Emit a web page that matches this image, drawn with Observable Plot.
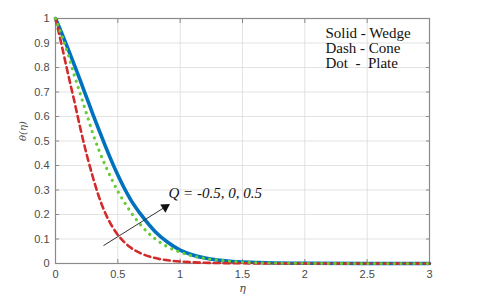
<!DOCTYPE html>
<html>
<head>
<meta charset="utf-8">
<script src="https://cdn.jsdelivr.net/npm/d3@7"></script>
<script src="https://cdn.jsdelivr.net/npm/@observablehq/plot@0.6"></script>
<style>
  html, body { margin: 0; padding: 0; background: #fff; }
  #chart { width: 480px; height: 304px; }
</style>
</head>
<body>
<div id="chart"></div>
<script>
// η grid and similarity temperature profiles θ(η)
const eta   = [0, 0.05, 0.1, 0.15, 0.2, 0.25, 0.3, 0.35, 0.4, 0.45, 0.5, 0.55, 0.6, 0.7, 0.8, 0.9, 1.0, 1.1, 1.2, 1.3, 1.4, 1.5, 1.75, 2, 2.5, 3];
const wedge = [1, 0.94, 0.877, 0.812, 0.745, 0.677, 0.609, 0.543, 0.479, 0.418, 0.361, 0.309, 0.263, 0.19, 0.13, 0.087, 0.055, 0.035, 0.022, 0.014, 0.009, 0.006, 0.002, 0.001, 0, 0];
const cone  = [1, 0.89, 0.775, 0.665, 0.55, 0.445, 0.352, 0.27, 0.205, 0.155, 0.117, 0.088, 0.066, 0.038, 0.022, 0.013, 0.008, 0.005, 0.003, 0.002, 0.0015, 0.001, 0, 0, 0, 0];
const plate = [1, 0.93, 0.855, 0.77, 0.69, 0.61, 0.53, 0.46, 0.40, 0.345, 0.295, 0.252, 0.213, 0.148, 0.1, 0.068, 0.046, 0.031, 0.021, 0.014, 0.009, 0.006, 0.002, 0.001, 0, 0];

const xTicks = [0, 0.5, 1, 1.5, 2, 2.5, 3];
const yTicks = [0, 0.1, 0.2, 0.3, 0.4, 0.5, 0.6, 0.7, 0.8, 0.9, 1];

const legendLines = ["Solid - Wedge", "Dash - Cone", "Dot\u00a0\u00a0-\u00a0\u00a0Plate"];
const annotation = "Q = -0.5, 0, 0.5";
const arrowTail = {x: 0.385, y: 0.073};
const arrowHead = {x: 0.90, y: 0.237};

const rows = (vals) => eta.map((e, i) => ({eta: e, theta: vals[i]}));

const axisColor = "#8a8a8a";
const fmt = d => `${d}`;
const tickFont = {fontFamily: "'Liberation Sans', Arial, sans-serif", fontSize: 11, fill: "#4a4a4a"};

const chart = Plot.plot({
  width: 480,
  height: 304,
  marginLeft: 55,
  marginRight: 51,
  marginTop: 18,
  marginBottom: 41,
  x: {domain: [0, 3]},
  y: {domain: [0, 1]},
  style: {background: "#fff", color: "#4a4a4a"},
  marks: [
    Plot.gridX(xTicks, {stroke: "#dcdcdc", strokeOpacity: 1, strokeWidth: 0.8}),
    Plot.gridY(yTicks, {stroke: "#dcdcdc", strokeOpacity: 1, strokeWidth: 0.8}),
    Plot.frame({stroke: axisColor, strokeWidth: 1.2}),
    Plot.axisX({ticks: xTicks, tickSize: -4, tickPadding: 11, tickFormat: fmt, stroke: axisColor, label: null, ...tickFont}),
    Plot.axisX({ticks: xTicks, anchor: "top", tickSize: -4, tickFormat: () => "", stroke: axisColor, label: null}),
    Plot.axisY({ticks: yTicks, tickSize: -4, tickPadding: 10, tickFormat: fmt, stroke: axisColor, label: null, ...tickFont}),
    Plot.axisY({ticks: yTicks, anchor: "right", tickSize: -4, tickFormat: () => "", stroke: axisColor, label: null}),
    Plot.line(rows(wedge), {x: "eta", y: "theta", stroke: "#0072BD", strokeWidth: 3.6, curve: "monotone-x"}),
    Plot.line(rows(cone), {x: "eta", y: "theta", stroke: "#d22b2b", strokeWidth: 2.6, strokeDasharray: "6,4", curve: "monotone-x"}),
    Plot.line(rows(plate), {x: "eta", y: "theta", stroke: "#66cc33", strokeWidth: 3.2, strokeDasharray: "0.1,6.5", strokeLinecap: "round", curve: "monotone-x"}),
    Plot.link([{x1: arrowTail.x, y1: arrowTail.y, x2: arrowHead.x, y2: arrowHead.y}], {x1: "x1", y1: "y1", x2: "x2", y2: "y2", stroke: "#333", strokeWidth: 1}),
    Plot.dot([arrowHead], {x: "x", y: "y", symbol: "triangle", r: 3.6, fill: "#111", stroke: "none", rotate: 58, dx: -2.5, dy: 1.6}),
    Plot.text([annotation], {x: 0.906, y: 0.285, text: d => d, textAnchor: "start", fontFamily: "'Liberation Serif', 'Times New Roman', serif", fontStyle: "italic", fontSize: 15, fill: "#111"}),
    Plot.text([legendLines.join("\n")], {x: 2.165, y: 0.94, text: d => d, textAnchor: "start", lineAnchor: "top", lineHeight: 1.0, fontFamily: "'Liberation Serif', 'Times New Roman', serif", fontSize: 15, fill: "#111", dy: -6}),
    Plot.text(["η"], {frameAnchor: "bottom", dy: 28, text: d => d, fontFamily: "'DejaVu Serif', serif", fontStyle: "italic", fontSize: 11, fill: "#4a4a4a"}),
    Plot.text(["θ(η)"], {frameAnchor: "left", dx: -33, rotate: -90, text: d => d, fontFamily: "'DejaVu Serif', serif", fontStyle: "italic", fontSize: 10, fill: "#4a4a4a"})
  ]
});

document.getElementById("chart").appendChild(chart);
</script>
</body>
</html>
